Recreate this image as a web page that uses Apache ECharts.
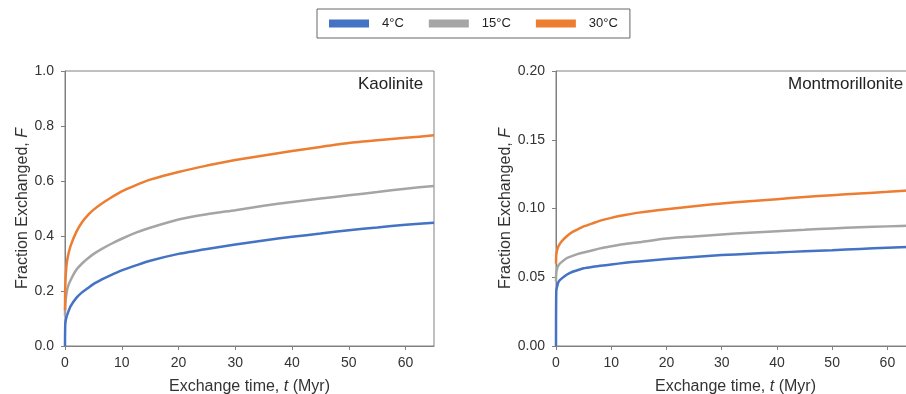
<!DOCTYPE html>
<html>
<head>
<meta charset="utf-8">
<script src="https://cdn.jsdelivr.net/npm/echarts@6/dist/echarts.min.js"></script>
<style>
  html, body { margin: 0; padding: 0; background: #fff; overflow: hidden; }
  #main { width: 920px; height: 394px; }
</style>
</head>
<body>
<div id="main"></div>
<script>
// time points (Myr)
var tVals = [0, 0.05, 0.25, 0.5, 1, 2, 3, 4, 5, 6.5, 8, 10, 12.5, 15, 20, 25, 30, 35, 40, 45, 50, 55, 60, 65];

// Kaolinite
var kaol4 = [0, 0.08, 0.105, 0.12, 0.145, 0.175, 0.195, 0.21, 0.225, 0.242, 0.257, 0.275, 0.293, 0.31, 0.335, 0.353, 0.369, 0.384, 0.397, 0.409, 0.421, 0.431, 0.441, 0.448];
var kaol15 = [0.11, 0.15, 0.19, 0.215, 0.24, 0.277, 0.3, 0.318, 0.334, 0.353, 0.37, 0.39, 0.412, 0.43, 0.46, 0.479, 0.494, 0.51, 0.524, 0.536, 0.548, 0.56, 0.572, 0.582];
var kaol30 = [0.13, 0.22, 0.29, 0.325, 0.365, 0.415, 0.45, 0.475, 0.495, 0.518, 0.538, 0.562, 0.585, 0.605, 0.633, 0.656, 0.676, 0.693, 0.709, 0.724, 0.738, 0.748, 0.757, 0.766];

// Montmorillonite
var mont4 = [0, 0.04, 0.044, 0.047, 0.049, 0.052, 0.054, 0.0553, 0.0565, 0.0575, 0.0583, 0.0593, 0.0605, 0.0615, 0.0632, 0.0648, 0.0661, 0.0671, 0.068, 0.0689, 0.0697, 0.0706, 0.0714, 0.0722];
var mont15 = [0.047, 0.053, 0.057, 0.059, 0.061, 0.064, 0.0655, 0.067, 0.068, 0.0695, 0.071, 0.0725, 0.0742, 0.0755, 0.0782, 0.0797, 0.0811, 0.0824, 0.0835, 0.0845, 0.0855, 0.0863, 0.087, 0.0876];
var mont30 = [0.06, 0.066, 0.0705, 0.073, 0.076, 0.08, 0.083, 0.085, 0.087, 0.089, 0.0912, 0.0932, 0.0952, 0.097, 0.0995, 0.1017, 0.1036, 0.1053, 0.1068, 0.1083, 0.1097, 0.1109, 0.1121, 0.1135];

var names = ['4°C', '15°C', '30°C'];
var colors = ['#4472C4', '#A5A5A5', '#ED7D31'];
var xTicks = [0, 10, 20, 30, 40, 50, 60];

function pairs(ys) {
    var out = [];
    for (var i = 0; i < tVals.length; i++) {
        out.push([tVals[i], ys[i]]);
    }
    return out;
}

function mkSeries(name, color, idx, ys) {
    return {
        name: name,
        type: 'line',
        xAxisIndex: idx,
        yAxisIndex: idx,
        data: pairs(ys),
        smooth: 0.2,
        showSymbol: false,
        lineStyle: { color: color, width: 2.5 },
        itemStyle: { color: color }
    };
}

var axisCol = '#808080';
var labelStyle = { fontSize: 14, color: '#333', fontFamily: 'Liberation Sans' };
var nameRich = {
    n: { fontSize: 16, color: '#333', fontFamily: 'Liberation Sans' },
    i: { fontSize: 16, color: '#333', fontStyle: 'italic', fontFamily: 'Liberation Sans' }
};

function xAxisCfg(idx) {
    return {
        type: 'value',
        gridIndex: idx,
        min: 0, max: 65, interval: 10,
        splitLine: { show: false },
        axisLine: { lineStyle: { color: axisCol } },
        axisTick: { length: 4, customValues: xTicks, lineStyle: { color: axisCol } },
        axisLabel: Object.assign({ margin: 10, customValues: xTicks }, labelStyle),
        name: '{n|Exchange time, }{i|t}{n| (Myr)}',
        nameLocation: 'middle',
        nameGap: 33,
        nameTextStyle: { rich: nameRich }
    };
}

function yAxisCfg(idx, max, interval, digits, gap) {
    return {
        type: 'value',
        gridIndex: idx,
        min: 0, max: max, interval: interval,
        splitLine: { show: false },
        axisLine: { show: true, lineStyle: { color: axisCol } },
        axisTick: { show: true, length: 4, lineStyle: { color: axisCol } },
        axisLabel: Object.assign({
            margin: 11,
            formatter: function (v) { return v.toFixed(digits); }
        }, labelStyle),
        name: '{n|Fraction Exchanged, }{i|F}',
        nameLocation: 'middle',
        nameGap: gap,
        nameTextStyle: { rich: nameRich }
    };
}

var myChart = echarts.init(document.getElementById('main'));

var option = {
    animation: false,
    textStyle: { fontFamily: 'Liberation Sans' },
    title: [
        {
            text: 'Kaolinite', left: 358, top: 76, padding: 0,
            textStyle: { fontSize: 17, fontWeight: 'normal', color: '#222' }
        },
        {
            text: 'Montmorillonite', left: 788, top: 76, padding: 0,
            textStyle: { fontSize: 17, fontWeight: 'normal', color: '#222' }
        }
    ],
    legend: {
        data: names,
        left: 317, top: 9,
        padding: [8, 12, 8, 12],
        borderColor: '#666', borderWidth: 1,
        icon: 'rect', itemWidth: 40, itemHeight: 8, itemGap: 25,
        textStyle: { fontSize: 13, color: '#222', padding: [0, 0, 0, 8] }
    },
    grid: [
        { left: 65, top: 71, width: 369, height: 275, outerBoundsMode: 'none', show: true, borderColor: axisCol, borderWidth: 1 },
        { left: 556, top: 71, width: 359, height: 275, outerBoundsMode: 'none', show: true, borderColor: axisCol, borderWidth: 1 }
    ],
    xAxis: [xAxisCfg(0), xAxisCfg(1)],
    yAxis: [yAxisCfg(0, 1, 0.2, 1, 25), yAxisCfg(1, 0.2, 0.05, 2, 39)],
    series: [
        mkSeries(names[0], colors[0], 0, kaol4),
        mkSeries(names[1], colors[1], 0, kaol15),
        mkSeries(names[2], colors[2], 0, kaol30),
        mkSeries(names[0], colors[0], 1, mont4),
        mkSeries(names[1], colors[1], 1, mont15),
        mkSeries(names[2], colors[2], 1, mont30)
    ]
};

myChart.setOption(option);
</script>
</body>
</html>
